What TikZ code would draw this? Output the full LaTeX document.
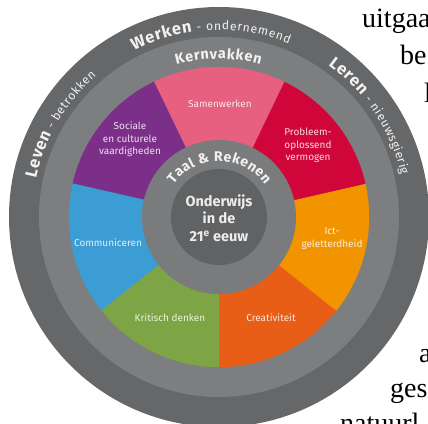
\documentclass[tikz,border=0pt]{standalone}
\usepackage{fontspec}
\setmainfont{Fira Sans}
\newfontfamily\bgserif{Liberation Serif}
\usetikzlibrary{decorations.text}
\definecolor{ringouter}{HTML}{666769}
\definecolor{ringmid}{HTML}{7D7E80}
\definecolor{ringinner}{HTML}{7A7B7D}
\definecolor{coredark}{HTML}{616264}
\definecolor{cpink}{HTML}{E8607F}
\definecolor{cred}{HTML}{D0053A}
\definecolor{cyellow}{HTML}{F29400}
\definecolor{corange}{HTML}{E85E16}
\definecolor{cgreen}{HTML}{7DA445}
\definecolor{cblue}{HTML}{3C9CD4}
\definecolor{cpurple}{HTML}{7C2F88}
\definecolor{ringtext}{HTML}{F2F2F2}
\begin{document}
\begin{tikzpicture}[
  bgtext/.style={font=\bgserif\fontsize{28}{28}\selectfont, text=black, inner sep=0pt, anchor=base west},
  seglabel/.style={font=\fontsize{10}{12.5}\selectfont, align=center, text=white!85!#1, inner sep=0pt},
  arctext/.style={decorate, decoration={text along path, text align=fit to path, text color=ringtext, text={#1}}}
]
\clip (-219pt,-206pt) rectangle (209pt,217pt);
\fill[white] (-219pt,-206pt) rectangle (209pt,217pt);
% fragments of page text behind the diagram
\node[bgtext] (bg1) at (143pt,189pt) {uitgaa};
\node[bgtext] (bg2) at (181pt,152pt) {be};
\node[bgtext] (bg3) at (205pt,114pt) {l};
\node[bgtext] (bg4) at (200pt,-145pt) {a};
\node[bgtext] (bg5) at (171pt,-180pt) {ges};
\node[bgtext] (bg6) at (121pt,-215pt) {natuurl};
% rings
\fill[ringouter] (0,0) circle[radius=210pt];
\fill[ringmid] (0,0) circle[radius=180pt];
\foreach \col [count=\i from 0] in {corange,cyellow,cred,cpink,cpurple,cblue,cgreen}{
  \pgfmathsetmacro\sa{270+\i*360/7}
  \pgfmathsetmacro\ea{270+(\i+1)*360/7}
  \filldraw[fill=\col, draw=\col, line width=0.3pt] (0,0) -- (\sa:150pt) arc[start angle=\sa, end angle=\ea, radius=150pt] -- cycle;
}
\fill[ringinner] (0,0) circle[radius=77pt];
\fill[coredark] (0,0) circle[radius=48pt];
% curved ring texts
\path[arctext={|\fontsize{16.5}{16.5}\selectfont\bfseries|Werken|\fontsize{12}{12}\selectfont\mdseries| - ondernemend}]
  (117:187pt) arc[start angle=117, end angle=68, radius=187pt];
\path[arctext={|\fontsize{16.5}{16.5}\selectfont\bfseries|Leven|\fontsize{12}{12}\selectfont\mdseries| - betrokken}]
  (168:187pt) arc[start angle=168, end angle=131, radius=187pt];
\path[arctext={|\fontsize{16.5}{16.5}\selectfont\bfseries|Leren|\fontsize{12}{12}\selectfont\mdseries| - nieuwsgierig}]
  (54.3:187pt) arc[start angle=54.3, end angle=13, radius=187pt];
\path[arctext={|\fontsize{14.5}{14.5}\selectfont\bfseries|Kernvakken}]
  (105.6:158pt) arc[start angle=105.6, end angle=74.8, radius=158pt];
\path[arctext={|\fontsize{14}{14}\selectfont\bfseries|Taal {\&} Rekenen}]
  (144:56pt) arc[start angle=144, end angle=35, radius=56pt];
% segment labels
\node[seglabel=cpink] (samen) at (1pt,113pt) {Samenwerken};
\node[seglabel=cred] (probleem) at (89pt,71.5pt) {Probleem-\\oplossend\\vermogen};
\node[seglabel=cpurple] (sociale) at (-89pt,77.5pt) {Sociale\\en culturele\\vaardigheden};
\node[seglabel=cblue] (comm) at (-111pt,-26pt) {Communiceren};
\node[seglabel=cgreen] (kritisch) at (-49pt,-101pt) {Kritisch denken};
\node[seglabel=corange] (creat) at (52pt,-101pt) {Creativiteit};
\node[seglabel=cyellow] (ict) at (113pt,-21.5pt) {Ict-\\geletterdheid};
% centre
\node[font=\bfseries\fontsize{14.5}{17.5}\selectfont, align=center, text=white!93!black, inner sep=0pt] (core) at (0pt,-1pt) {Onderwijs\\in de\\21\textsuperscript{e} eeuw};
\end{tikzpicture}
\end{document}
